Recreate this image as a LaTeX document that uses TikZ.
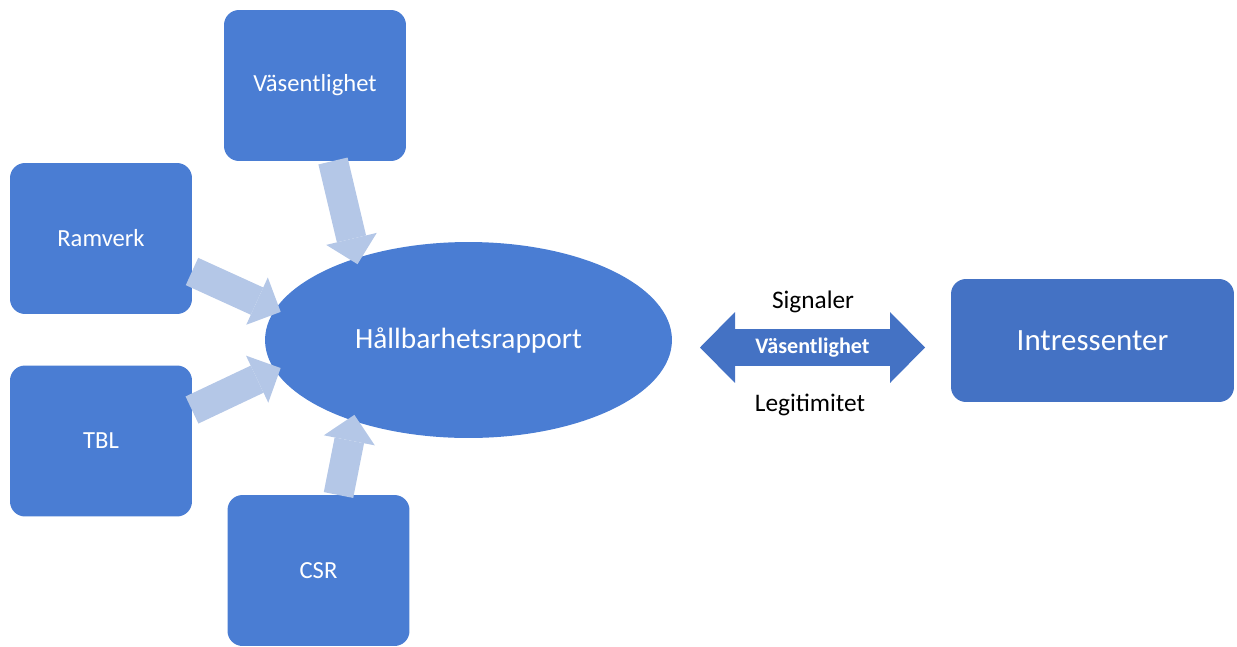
\documentclass[tikz,border=0pt]{standalone}
\usepackage{fontspec}
\setmainfont{Carlito}
\usetikzlibrary{shapes.geometric, arrows.meta, calc}

\definecolor{boxblue}{HTML}{4A7DD3}
\definecolor{darkblue}{HTML}{4472C4}
\definecolor{paleblue}{HTML}{B4C7E7}

\begin{document}
\begin{tikzpicture}
        [
            x=0.02cm, y=-0.02cm,
            square/.style = {shape=rectangle, fill=boxblue, rounded corners=0.3cm, minimum height=3.02cm, minimum width=3.64cm, inner sep=0pt, outer sep=0pt, text=white, font=\fontsize{14}{16}\selectfont},
            wide/.style = {square, fill=darkblue, minimum height=2.46cm, minimum width=5.66cm, font=\fontsize{17.6}{20}\selectfont},
            oval/.style = {shape=ellipse, fill=boxblue, minimum width=8.14cm, minimum height=3.92cm, inner sep=0pt, outer sep=0pt, text=white, font=\fontsize{16.7}{19}\selectfont},
            feed/.style = {draw=paleblue, line width=0.6cm, shorten >=-0.12cm, -{Triangle[length=0.52cm, width=1.04cm, line width=0pt]}},
            both/.style = {draw=darkblue, line width=0.74cm, {Triangle[length=0.7cm, width=1.42cm, line width=0pt]}-{Triangle[length=0.7cm, width=1.42cm, line width=0pt]}},
            plain/.style = {text=black, font=\fontsize{14.4}{17}\selectfont},
        ]

        \useasboundingbox (0,0) rectangle (1237,646);

        \node[square] (vas) at (315,85.5)   {Väsentlighet};
        \node[square] (ram) at (101,238.5)  {Ramverk};
        \node[square] (tbl) at (101,441)    {TBL};
        \node[square] (csr) at (318.5,570.5) {CSR};

        \node[oval] (rap) at (468.5,340)    {Hållbarhetsrapport};
        \node[wide] (int) at (1092.5,340.5) {Intressenter};

        \coordinate (dl) at (700,347.5);
        \coordinate (dr) at (925,347.5);

        \node[plain] (sig) at (813,302)     {Signaler};
        \node[plain] (leg) at (810,405)     {Legitimitet};

        \draw [feed] ($(vas.south)+(18,0)$) -- (rap.144);
        \draw [feed] ($(ram.east)+(0,33)$)  -- (rap.171);
        \draw [feed] ($(tbl.east)+(0,-31)$) -- (rap.189);
        \draw [feed] ($(csr.north)+(20,0)$) -- (rap.215);

        \draw [both] (dl) -- (dr) node[midway, text=white, font=\bfseries\fontsize{12.6}{15}\selectfont] (mid) {Väsentlighet};
    \end{tikzpicture}
\end{document}
